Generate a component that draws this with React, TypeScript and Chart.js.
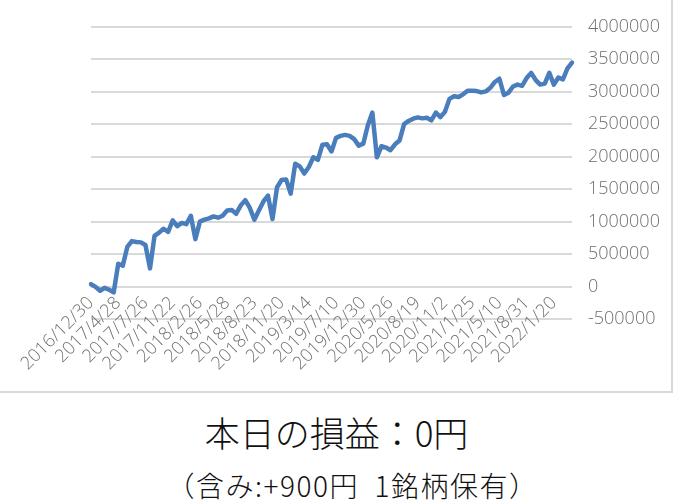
import React, { useEffect, useRef } from "react";
import { Chart, registerables } from "chart.js";

Chart.register(...registerables);

// Date labels shown on the category axis (one every `pointsPerLabel` points)
const tickLabels = [
  "2016/12/30", "2017/4/28", "2017/7/26", "2017/11/22", "2018/2/26", "2018/5/28",
  "2018/8/23", "2018/11/20", "2019/3/14", "2019/7/10", "2019/12/30", "2020/5/26",
  "2020/8/19", "2020/11/2", "2021/1/25", "2021/5/10", "2021/8/31", "2022/1/20",
];
const pointsPerLabel = 6;

// Cumulative profit (yen)
const profit = [
  36000, -5000, -65000, -20000, -50000, -90000, 350000, 320000, 610000, 700000,
  685000, 680000, 640000, 280000, 780000, 830000, 890000, 840000, 1020000, 930000,
  980000, 960000, 1090000, 730000, 1000000, 1030000, 1050000, 1080000, 1060000, 1090000,
  1170000, 1180000, 1120000, 1250000, 1330000, 1210000, 1030000, 1170000, 1310000, 1400000,
  1040000, 1530000, 1640000, 1650000, 1430000, 1890000, 1850000, 1740000, 1840000, 1990000,
  1950000, 2185000, 2190000, 2080000, 2290000, 2320000, 2335000, 2320000, 2270000, 2170000,
  2200000, 2480000, 2680000, 1990000, 2160000, 2140000, 2100000, 2190000, 2250000, 2500000,
  2550000, 2585000, 2605000, 2590000, 2600000, 2560000, 2680000, 2610000, 2690000, 2890000,
  2930000, 2920000, 2960000, 3015000, 3015000, 3010000, 2990000, 3005000, 3060000, 3150000,
  3200000, 2950000, 2985000, 3080000, 3110000, 3090000, 3210000, 3290000, 3180000, 3110000,
  3125000, 3290000, 3110000, 3220000, 3190000, 3360000, 3450000,
];

const yMin = -500000;
const yMax = 4000000;
const yStep = 500000;

const titleText = "本日の損益：0円";
const subtitleText = "（含み:+900円\u00a0\u00a01銘柄保有）";

const AXIS_FONT = "'Open Sans', 'Noto Sans', sans-serif";
const TEXT_FONT = "'Noto Sans CJK JP', 'Noto Sans', sans-serif";

export default function App() {
  const canvasRef = useRef<HTMLCanvasElement | null>(null);

  useEffect(() => {
    const canvas = canvasRef.current;
    if (!canvas) return;
    const categories = profit.map((_, i) =>
      i % pointsPerLabel === 0 && tickLabels[i / pointsPerLabel] ? tickLabels[i / pointsPerLabel] : ""
    );
    const chart = new Chart(canvas, {
      type: "line",
      data: {
        labels: categories,
        datasets: [
          {
            data: profit,
            borderColor: "#4a7dbb",
            borderWidth: 4.5,
            borderJoinStyle: "round",
            borderCapStyle: "round",
            pointRadius: 0,
            tension: 0,
            fill: false,
          },
        ],
      },
      options: {
        responsive: false,
        animation: false,
        events: [],
        layout: { padding: { left: 91, top: 22, bottom: 72, right: 0 } },
        plugins: { legend: { display: false }, tooltip: { enabled: false }, title: { display: false } },
        scales: {
          x: {
            type: "category",
            position: { y: 0 } as any,
            grid: { display: false, drawTicks: false },
            border: { display: false },
            ticks: {
              autoSkip: false,
              minRotation: 45,
              maxRotation: 45,
              padding: 6,
              color: "#707070",
              font: { family: AXIS_FONT, size: 18, weight: "300" as any },
            },
          },
          y: {
            position: "right",
            min: yMin,
            max: yMax,
            grid: { color: "#d9d9d9", lineWidth: 2, drawTicks: false },
            border: { display: false },
            ticks: {
              stepSize: yStep,
              padding: 16,
              color: "#707070",
              font: { family: AXIS_FONT, size: 18, weight: "300" as any },
              callback: (v: any) => String(v),
            },
            afterFit: (s: any) => {
              s.width = 99;
            },
          },
        },
      },
    });
    return () => chart.destroy();
  }, []);

  return (
    <div
      style={{
        position: "absolute",
        left: 0,
        top: 0,
        width: 673,
        height: 502,
        background: "#fff",
        overflow: "hidden",
      }}
    >
      <div
        style={{
          position: "absolute",
          left: 0,
          top: 0,
          width: 671,
          height: 391,
          borderRight: "2px solid #d9d9d9",
          borderBottom: "2px solid #d9d9d9",
        }}
      >
        <canvas ref={canvasRef} width={671} height={391} style={{ display: "block", width: 671, height: 391 }} />
      </div>
      <div
        style={{
          position: "absolute",
          left: 0,
          width: 673,
          top: 409,
          textAlign: "center",
          fontFamily: TEXT_FONT,
          fontWeight: 300,
          fontSize: 35,
          lineHeight: "46px",
          color: "#111",
        }}
      >
        {titleText}
      </div>
      <div
        style={{
          position: "absolute",
          left: 16,
          width: 673,
          top: 466,
          textAlign: "center",
          fontFamily: TEXT_FONT,
          fontWeight: 300,
          fontSize: 28,
          letterSpacing: "1.5px",
          lineHeight: "38px",
          color: "#111",
        }}
      >
        {subtitleText}
      </div>
    </div>
  );
}
